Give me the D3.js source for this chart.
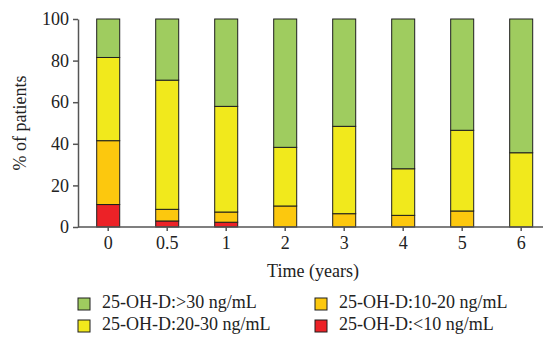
<!DOCTYPE html>
<html>
<head>
<meta charset="utf-8">
<script src="https://cdn.jsdelivr.net/npm/d3@7"></script>
<style>
  body { margin: 0; background: #fff; }
  svg { display: block; }
  text { font-family: "Liberation Serif", "Times New Roman", serif; fill: #222; }
</style>
</head>
<body>
<svg id="chart" width="543" height="345"></svg>
<script>
// data (% of patients per level)
const times = ["0", "0.5", "1", "2", "3", "4", "5", "6"];
const below10 = [10.8, 2.9, 2.3, 0, 0, 0, 0, 0];
const from10to20 = [30.7, 5.6, 4.9, 10.1, 6.4, 5.6, 7.7, 0];
const from20to30 = [40.0, 62.1, 50.8, 28.2, 42.0, 22.4, 38.8, 35.7];
const above30 = [18.5, 29.4, 42.0, 61.7, 51.6, 72.0, 53.5, 64.3];
const yTicks = [0, 20, 40, 60, 80, 100];

const seriesNames = ["25-OH-D:<10 ng/mL", "25-OH-D:10-20 ng/mL", "25-OH-D:20-30 ng/mL", "25-OH-D:>30 ng/mL"];
const seriesColors = ["#ec2227", "#fcc80e", "#f1e91c", "#9fcc5f"];

const width = 543, height = 345,
  margin = {top: 19, right: 0, bottom: 118, left: 78};

const svg = d3.select("#chart");

// table for the stack
const table = times.map((t, i) => ({
  time: t,
  "25-OH-D:<10 ng/mL": below10[i],
  "25-OH-D:10-20 ng/mL": from10to20[i],
  "25-OH-D:20-30 ng/mL": from20to30[i],
  "25-OH-D:>30 ng/mL": above30[i]
}));

const stacked = d3.stack().keys(seriesNames)(table);

const x = d3.scaleBand()
  .domain(times)
  .range([margin.left, 551.4])
  .paddingInner(0.61)
  .paddingOuter(0.317);

const y = d3.scaleLinear()
  .domain([0, 100])
  .range([height - margin.bottom, margin.top]);

const color = d3.scaleOrdinal().domain(seriesNames).range(seriesColors);

// bars
svg.append("g")
  .selectAll("g")
  .data(stacked)
  .enter()
  .append("g")
    .attr("fill", d => color(d.key))
  .selectAll("rect")
  .data(d => d.filter(s => s[1] - s[0] > 0))
  .enter()
  .append("rect")
    .attr("x", d => x(d.data.time))
    .attr("y", d => y(d[1]))
    .attr("width", x.bandwidth())
    .attr("height", d => y(d[0]) - y(d[1]))
    .attr("stroke", "#1e1e1e")
    .attr("stroke-width", 1);

// y axis
const gY = svg.append("g")
  .attr("transform", "translate(" + margin.left + ",0)")
  .call(d3.axisLeft(y).tickValues(yTicks).tickSize(5).tickPadding(4).tickSizeOuter(0));
gY.select(".domain").attr("stroke", "#555").attr("stroke-width", 1.5);
gY.selectAll(".tick line").attr("stroke", "#555").attr("stroke-width", 1.5);
gY.selectAll("text").attr("font-size", 18).attr("font-family", "Liberation Serif").attr("fill", "#222");

// x axis
const gX = svg.append("g")
  .attr("transform", "translate(0," + y(0) + ")")
  .call(d3.axisBottom(x).tickSize(4).tickPadding(5).tickSizeOuter(0));
gX.select(".domain").attr("d", "M" + margin.left + ",0H" + width).attr("stroke", "#555").attr("stroke-width", 1.5);
gX.selectAll(".tick line").attr("stroke", "#555").attr("stroke-width", 1.5);
gX.selectAll("text").attr("font-size", 18).attr("font-family", "Liberation Serif").attr("fill", "#222");

// axis titles
svg.append("text")
  .attr("x", 313)
  .attr("y", 277)
  .attr("text-anchor", "middle")
  .attr("font-size", 18)
  .text("Time (years)");

svg.append("text")
  .attr("transform", "translate(26,123) rotate(-90)")
  .attr("text-anchor", "middle")
  .attr("font-size", 18)
  .text("% of patients");

// legend
const legendItems = [
  {name: "25-OH-D:>30 ng/mL", lx: 78, ly: 298},
  {name: "25-OH-D:10-20 ng/mL", lx: 315, ly: 298},
  {name: "25-OH-D:20-30 ng/mL", lx: 78, ly: 320},
  {name: "25-OH-D:<10 ng/mL", lx: 315, ly: 320}
];

const legend = svg.append("g").selectAll("g")
  .data(legendItems)
  .enter()
  .append("g")
    .attr("transform", d => "translate(" + d.lx + "," + d.ly + ")");

legend.append("rect")
  .attr("width", 12)
  .attr("height", 12)
  .attr("fill", d => color(d.name))
  .attr("stroke", "#1e1e1e")
  .attr("stroke-width", 1);

legend.append("text")
  .attr("x", 24)
  .attr("y", 10)
  .attr("font-size", 18)
  .text(d => d.name);
</script>
</body>
</html>
